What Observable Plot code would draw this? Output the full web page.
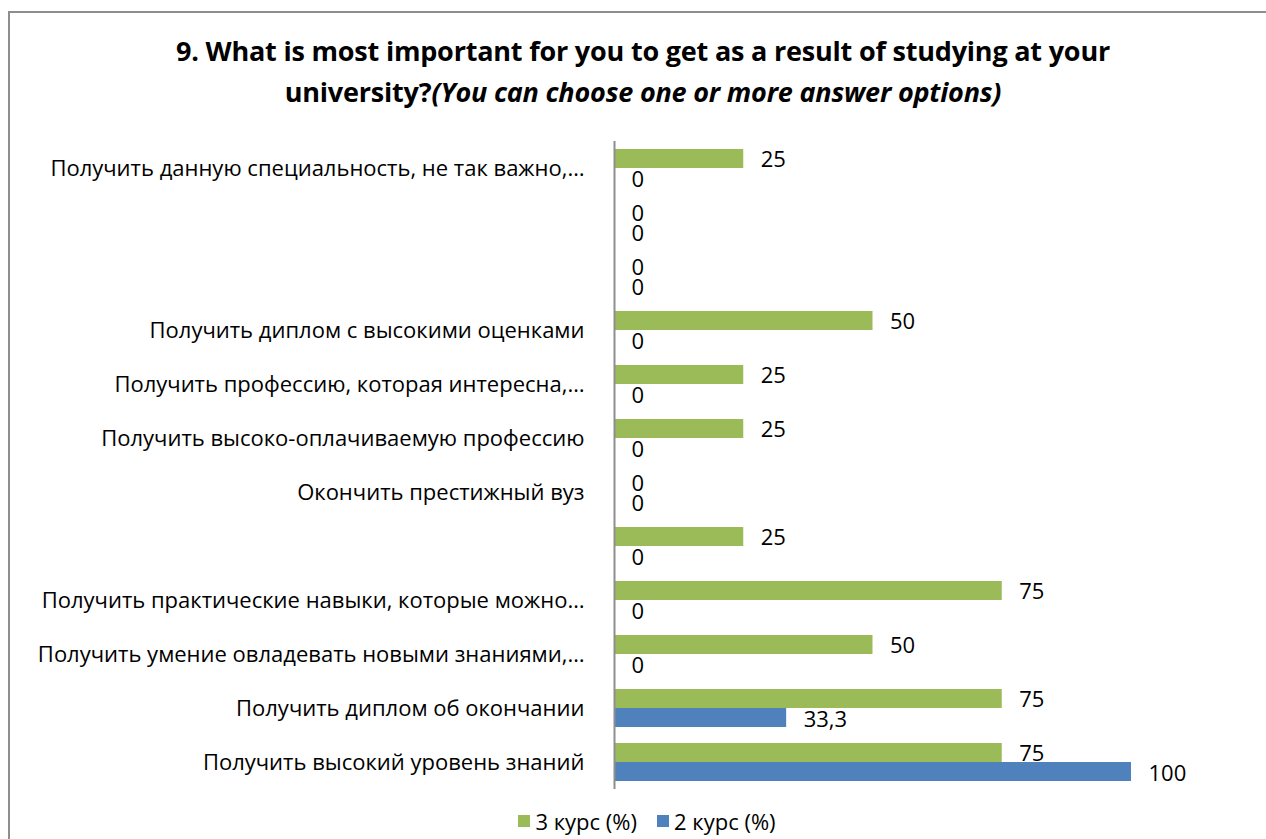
<!DOCTYPE html>
<html>
<head>
<meta charset="utf-8">
<script src="https://cdn.jsdelivr.net/npm/d3@7"></script>
<script src="https://cdn.jsdelivr.net/npm/@observablehq/plot@0.6"></script>
<style>
  html, body { margin: 0; padding: 0; background: #fff; }
  #wrap { position: relative; width: 1266px; height: 839px; overflow: hidden; background: #fff; font-family: "Open Sans", sans-serif; }
  #frame { position: absolute; left: 8px; top: 11px; width: 1400px; height: 1000px; border-left: 2px solid #8e8e8e; border-top: 2px solid #8e8e8e; box-sizing: border-box; }
  #title { position: relative; height: 120px; text-align: center; font-weight: 700; font-size: 27px; line-height: 41px; color: #000; padding-top: 30px; box-sizing: border-box; letter-spacing: -0.2px; padding-left: 20px; }
  #title i { font-style: italic; }
  #chart { position: relative; }
  #legend { position: absolute; left: 0; top: 806px; width: 1266px; display: flex; justify-content: center; align-items: center; font-size: 22px; line-height: 30px; color: #000; padding-left: 28px; box-sizing: border-box; }
  .item { display: flex; align-items: center; margin: 0 10px; }
  .sw { width: 12px; height: 12px; margin-right: 5px; }
</style>
</head>
<body>
<div id="wrap">
  <div id="frame"></div>
  <div id="title">9. What is most important for you to get as a result of studying at your<br>university?<i>(You can choose one or more answer options)</i></div>
  <div id="chart"></div>
  <div id="legend"></div>
</div>
<script>
const categories = [
  "Получить данную специальность, не так важно,…",
  "",
  "",
  "Получить диплом с высокими оценками",
  "Получить профессию, которая интересна,…",
  "Получить высоко-оплачиваемую профессию",
  "Окончить престижный вуз",
  "",
  "Получить практические навыки, которые можно…",
  "Получить умение овладевать новыми знаниями,…",
  "Получить диплом об окончании",
  "Получить высокий уровень знаний"
];
const course3 = [25, 0, 0, 50, 25, 25, 0, 25, 75, 50, 75, 75];
const course2 = [0, 0, 0, 0, 0, 0, 0, 0, 0, 0, 33.3, 100];
const seriesNames = ["3 курс (%)", "2 курс (%)"];
const seriesColors = ["#9BBB59", "#4F81BD"];

const idx = categories.map((_, i) => i);
const d3rows = idx.map(i => ({i, v: course3[i]}));
const d2rows = idx.map(i => ({i, v: course2[i]}));
const fmt = v => String(v).replace(".", ",");

const plot = Plot.plot({
  width: 1266,
  height: 679,
  marginLeft: 614,
  marginRight: 135,
  marginTop: 21,
  marginBottom: 10,
  style: { fontFamily: "'Open Sans', sans-serif", background: "transparent" },
  x: { domain: [0, 100], axis: null },
  y: { domain: idx, padding: 0, axis: null },
  marks: [
    Plot.barX(d3rows, { x: "v", y: "i", fill: seriesColors[0], insetTop: 8, insetBottom: 27 }),
    Plot.barX(d2rows, { x: "v", y: "i", fill: seriesColors[1], insetTop: 27, insetBottom: 8 }),
    Plot.text(d3rows, { x: "v", y: "i", text: d => fmt(d.v), dx: 17, dy: -9, textAnchor: "start", fontSize: 22, fill: "#000" }),
    Plot.text(d2rows, { x: "v", y: "i", text: d => fmt(d.v), dx: 17, dy: 11, textAnchor: "start", fontSize: 22, fill: "#000" }),
    Plot.axisY({ tickSize: 0, tickPadding: 30, fontSize: 22, tickFormat: i => categories[i], fill: "#000", label: null }),
    Plot.ruleX([0], { stroke: "#8e8e8e", strokeWidth: 2 })
  ]
});
document.getElementById("chart").appendChild(plot);

const legend = document.getElementById("legend");
seriesNames.forEach((n, k) => {
  const it = document.createElement("div");
  it.className = "item";
  const sw = document.createElement("div");
  sw.className = "sw";
  sw.style.background = seriesColors[k];
  const t = document.createElement("span");
  t.textContent = n;
  it.appendChild(sw); it.appendChild(t);
  legend.appendChild(it);
});
</script>
</body>
</html>
